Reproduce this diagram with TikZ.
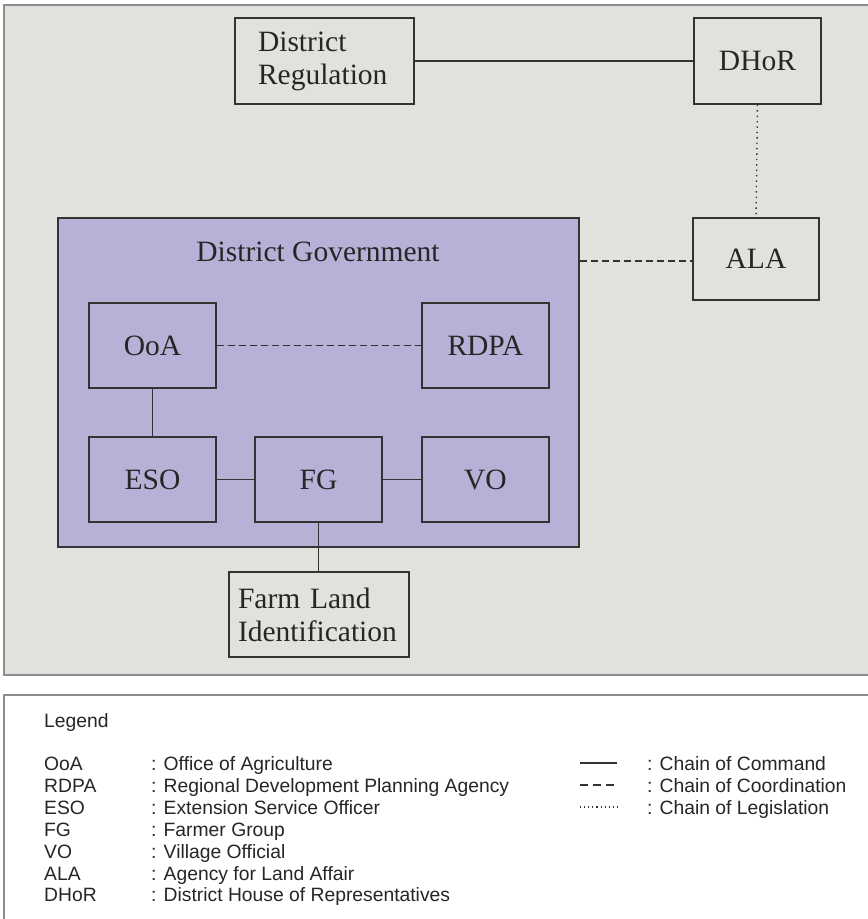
\documentclass[tikz,border=0pt]{standalone}
\usepackage{fontspec}
\setmainfont{Liberation Serif}
\newfontfamily\legfont{Liberation Sans}
\definecolor{panelbg}{HTML}{E1E1DD}
\definecolor{govfill}{HTML}{B8B0D6}
\definecolor{linec}{HTML}{333333}
\definecolor{framec}{HTML}{8C8C8C}
\begin{document}
\begin{tikzpicture}[x=1pt,y=-1pt,
  box/.style={draw=linec,line width=1.6pt,inner sep=0pt,font=\fontsize{29.5}{33}\selectfont,text=black!85},
  conn/.style={draw=linec,line width=1.6pt},
  coord/.style={conn,dash pattern=on 7pt off 4pt},
  legis/.style={conn,line width=1.4pt,dash pattern=on 1.4pt off 4pt},
  leg/.style={anchor=base west,inner sep=0pt,font=\legfont\fontsize{19.3}{22}\selectfont,text=black!85}]
\useasboundingbox (0,0) rectangle (868,919);
% panels
\draw[draw=framec,line width=1.5pt,fill=panelbg] (4,5) rectangle (875,675);
\draw[draw=framec,line width=1.5pt,fill=white] (4,695) rectangle (875,930);
% top nodes
\node[box,fill=panelbg,minimum width=179,minimum height=86,text width=133pt,inner xsep=23pt,align=left] (dr) at (324.5,61) {District\\Regulation};
\node[box,fill=panelbg,minimum width=127,minimum height=86] (dhor) at (757.5,61) {DHoR};
\node[box,fill=panelbg,minimum width=126,minimum height=82] (ala) at (756,259) {ALA};
\node[box,fill=govfill,minimum width=521,minimum height=329] (dg) at (318.5,382.5) {};
\node[inner sep=0pt,font=\fontsize{29.5}{33}\selectfont,text=black!85] (dgl) at (318,252) {District Government};
\node[box,minimum width=127,minimum height=85] (ooa) at (152.5,345.5) {OoA};
\node[box,minimum width=127,minimum height=85] (rdpa) at (485.5,345.5) {RDPA};
\node[box,minimum width=127,minimum height=85] (eso) at (152.5,479.5) {ESO};
\node[box,minimum width=127,minimum height=85] (fg) at (318.5,479.5) {FG};
\node[box,minimum width=127,minimum height=85] (vo) at (485.5,479.5) {VO};
\node[box,fill=panelbg,minimum width=180,minimum height=85,text width=162pt,inner xsep=9pt,align=left] (fli) at (319,614.5) {Farm Land\\Identification};
% connectors
\draw[conn] (dr.east) -- (dhor.west);
\draw[legis] (dhor.south) -- (ala.north);
\coordinate (dge) at (dg.east |- 0,261);
\draw[coord] (dge) -- (ala.west |- dge);
\draw[coord] (ooa.east) -- (rdpa.west);
\draw[conn] (ooa.south) -- (eso.north);
\draw[conn] (eso.east) -- (fg.west);
\draw[conn] (fg.east) -- (vo.west);
\draw[conn] (fg.south) -- (fg.south |- fli.north);
% legend
\node[leg] (lt) at (44,727) {Legend};
\node[leg] (a1) at (44,770) {OoA};
\node[leg] (a2) at (44,792) {RDPA};
\node[leg] (a3) at (44,814) {ESO};
\node[leg] (a4) at (44,836) {FG};
\node[leg] (a5) at (44,858) {VO};
\node[leg] (a6) at (44,880) {ALA};
\node[leg] (a7) at (44,901) {DHoR};
\node[leg] (d1) at (151,770) {: Office of Agriculture};
\node[leg] (d2) at (151,792) {: Regional Development Planning Agency};
\node[leg] (d3) at (151,814) {: Extension Service Officer};
\node[leg] (d4) at (151,836) {: Farmer Group};
\node[leg] (d5) at (151,858) {: Village Official};
\node[leg] (d6) at (151,880) {: Agency for Land Affair};
\node[leg] (d7) at (151,901) {: District House of Representatives};
\coordinate (s1a) at (580,763); \coordinate (s1b) at (617,763);
\coordinate (s2a) at (580,785); \coordinate (s2b) at (617,785);
\coordinate (s3a) at (580,807); \coordinate (s3b) at (617,807);
\draw[conn] (s1a) -- (s1b);
\draw[conn,dash pattern=on 8pt off 5pt] (s2a) -- (s2b);
\draw[conn,line width=1.1pt,dash pattern=on 1.1pt off 3pt] (s3a) -- (s3b);
\node[leg] (c1) at (647,770) {: Chain of Command};
\node[leg] (c2) at (647,792) {: Chain of Coordination};
\node[leg] (c3) at (647,814) {: Chain of Legislation};
\end{tikzpicture}
\end{document}
